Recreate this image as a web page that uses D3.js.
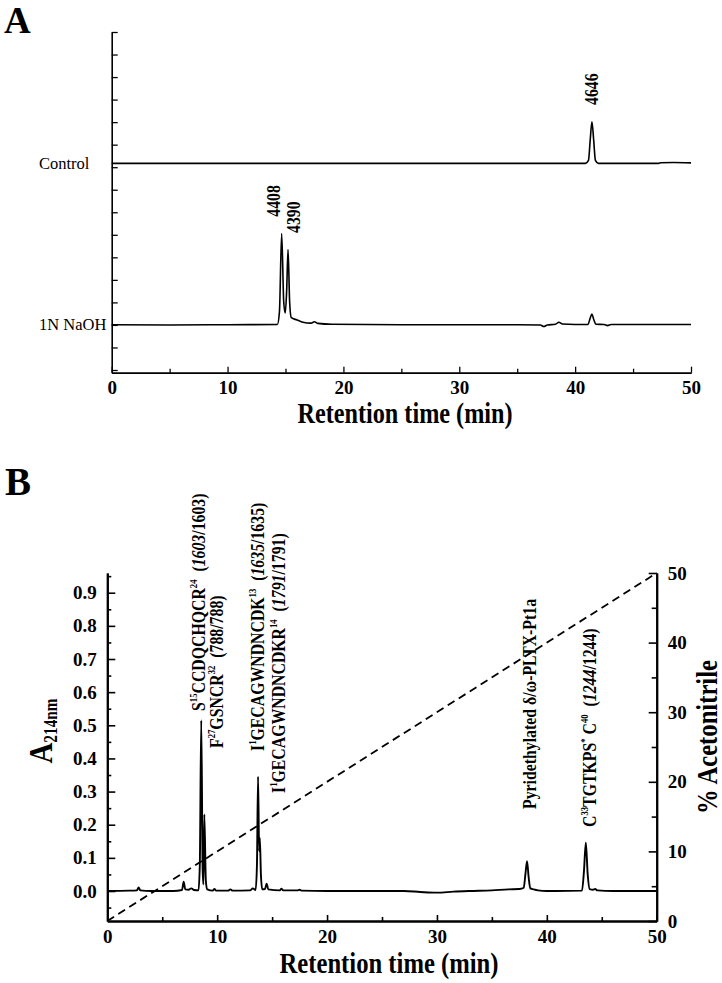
<!DOCTYPE html>
<html><head><meta charset="utf-8">
<script src="https://cdn.jsdelivr.net/npm/d3@7"></script>
<style>
body{margin:0;background:#fff}
svg{display:block}
</style>
</head><body>
<svg id="c" width="722" height="983" font-family="'Liberation Serif', Tinos, 'Times New Roman', Times, 'DejaVu Serif', serif"></svg>
<script>
// ---------------- DATA ----------------
const timeMajor = [0,10,20,30,40,50];
const timeMinor = [5,15,25,35,45];
const ticksA = [0,0.1,0.2,0.3,0.4,0.5,0.6,0.7,0.8,0.9,1.0,1.1,1.2,1.3,1.4,1.5];
const rowLabelsA = ["Control","1N NaOH"];
const peakLabelsA = ["4646","4408","4390"];
// panel A traces [time (min), signal on panel A axis]
const controlTrace = [[0,0.917],[10,0.917],[20,0.917],[30,0.917],[40,0.917],[40.9,0.917],[41.15,0.93],[41.3,1.02],[41.45,1.102],[41.6,1.02],[41.75,0.93],[42.0,0.917],[47.2,0.917],[47.4,0.920],[48.5,0.921],[49.5,0.920],[50,0.919]];
const naohTrace = [[0,0.201],[5,0.200],[10,0.201],[14.3,0.202],[14.48,0.26],[14.67,0.605],[14.85,0.30],[14.98,0.253],[15.1,0.35],[15.22,0.535],[15.36,0.30],[15.5,0.232],[16,0.222],[16.5,0.212],[17.2,0.208],[17.5,0.214],[17.8,0.207],[19,0.203],[25,0.201],[30,0.201],[35,0.201],[37.0,0.200],[37.3,0.193],[37.6,0.200],[38.3,0.203],[38.6,0.212],[38.9,0.204],[40,0.202],[41.1,0.202],[41.3,0.23],[41.45,0.248],[41.6,0.225],[41.8,0.203],[42.5,0.202],[42.8,0.197],[43.1,0.202],[50,0.202]];
// panel B
const absMajor = [0.0,0.1,0.2,0.3,0.4,0.5,0.6,0.7,0.8,0.9];
const absMinor = [-0.05,0.05,0.15,0.25,0.35,0.45,0.55,0.65,0.75,0.85,0.95];
const acnMajor = [0,10,20,30,40,50];
const acnMinor = [5,15,25,35,45];
const absTrace = [[0,0.0],[2.0,0.001],[2.7,0.002],[2.85,0.011],[3.0,0.002],[4,0.0],[6,0.0],[6.8,0.003],[6.95,0.028],[7.1,0.005],[7.4,0.004],[7.65,0.008],[7.9,0.003],[8.3,0.002],[8.42,0.08],[8.55,0.515],[8.68,0.06],[8.75,0.02],[8.83,0.231],[8.97,0.03],[9.1,0.005],[9.6,0.001],[9.75,0.006],[9.9,0.001],[11.0,0.001],[11.2,0.005],[11.4,0.001],[13.0,0.002],[13.25,0.008],[13.5,0.003],[13.62,0.08],[13.72,0.345],[13.82,0.12],[13.88,0.16],[13.98,0.05],[14.1,0.005],[14.35,0.006],[14.5,0.022],[14.65,0.005],[15.7,0.002],[15.85,0.007],[16.0,0.002],[17.3,0.002],[17.5,0.004],[17.7,0.001],[20,0.0],[25,0.0],[27,0.0],[28.5,-0.003],[30,-0.005],[31.5,-0.002],[33,0.0],[35,0.002],[36.5,0.005],[37.5,0.006],[37.9,0.01],[38.05,0.05],[38.2,0.09],[38.35,0.04],[38.5,0.008],[38.8,0.005],[39.2,0.002],[40,0.0],[43.2,0.001],[43.38,0.06],[43.55,0.146],[43.72,0.05],[43.9,0.006],[44.2,0.004],[44.4,0.006],[44.6,0.002],[46,0.0],[50,0.0]];
const acnGradient = [[0,0],[50,50]];
const peakLabelsB = [
  [{t:"S"},{t:"15",sup:1},{t:"CCDQCHQCR"},{t:"24",sup:1},{t:"\u00a0\u00a0("},{t:"1603",it:1},{t:"/1603)"}],
  [{t:"F"},{t:"27",sup:1},{t:"GSNCR"},{t:"32",sup:1},{t:"\u00a0\u00a0(788/788)"}],
  [{t:"I"},{t:"1",sup:1},{t:"GECAGWNDNCDK"},{t:"13",sup:1},{t:"\u00a0\u00a0("},{t:"1635",it:1},{t:"/1635)"}],
  [{t:"I"},{t:"1",sup:1},{t:"GECAGWNDNCDKR"},{t:"14",sup:1},{t:"\u00a0\u00a0("},{t:"1791",it:1},{t:"/1791)"}],
  [{t:"Pyridethylated \u03b4/\u03c9-PLTX-Pt1a"}],
  [{t:"C"},{t:"33",sup:1},{t:"TGTKPS"},{t:"*",sup:1},{t:"\u00a0C"},{t:"40",sup:1},{t:"\u00a0\u00a0("},{t:"1244",it:1},{t:"/1244)"}]
];
const xTitle = "Retention time (min)";

// ---------------- LAYOUT ----------------
const FONT = "'Liberation Serif', Tinos, 'Times New Roman', Times, 'DejaVu Serif', serif";
const svg = d3.select("#c");
svg.append("rect").attr("width",722).attr("height",983).attr("fill","#fff");

function styleAxis(g, w){
  g.attr("font-family", FONT);
  g.selectAll("path.domain").attr("stroke","#000").attr("stroke-width",w);
  g.selectAll(".tick line").attr("stroke","#000").attr("stroke-width",w*0.8);
  g.selectAll(".tick text").attr("font-family",FONT)
    .attr("font-weight","bold").attr("font-size",19).attr("fill","#000");
}
function txt(g){ return g.append("text").attr("font-family",FONT).attr("fill","#000"); }
const SQ = 0.85; // narrow glyph look of the reference

// ===== Panel A =====
const xA = d3.scaleLinear().domain([0,50]).range([111.7,691]);
const yA = d3.scaleLinear().domain([-0.012,1.5]).range([372.7,32]);

const gA = svg.append("g");
gA.append("g").attr("transform","translate(0,372.7)")
  .call(d3.axisBottom(xA).tickValues(timeMinor).tickSize(-4).tickSizeOuter(0).tickFormat(""))
  .call(g=>styleAxis(g,1.6));
gA.append("g").attr("transform","translate(0,372.7)")
  .call(d3.axisBottom(xA).tickValues(timeMajor).tickSize(-6).tickSizeOuter(0).tickPadding(8).tickFormat(d3.format("d")))
  .call(g=>styleAxis(g,1.6));
gA.append("g").attr("transform","translate(111.7,0)")
  .call(d3.axisLeft(yA).tickValues(ticksA).tickSize(-6).tickSizeOuter(0).tickFormat(""))
  .call(g=>styleAxis(g,1.6));

const lineA = d3.line().x(d=>xA(d[0])).y(d=>yA(d[1])).curve(d3.curveMonotoneX);
gA.append("path").datum(controlTrace).attr("d",lineA).attr("fill","none").attr("stroke","#000").attr("stroke-width",1.6);
gA.append("path").datum(naohTrace).attr("d",lineA).attr("fill","none").attr("stroke","#000").attr("stroke-width",1.6);

txt(gA).attr("x",39).attr("y",168.5).attr("font-size",16.5).text(rowLabelsA[0]);
txt(gA).attr("x",39).attr("y",330).attr("font-size",16.5).text(rowLabelsA[1]);

const posA = [[598,105],[280,216.7],[300,233]];
peakLabelsA.forEach((s,i)=>{
  txt(gA).attr("transform",`translate(${posA[i][0]},${posA[i][1]}) rotate(-90) scale(${SQ},1)`)
    .attr("font-size",18.6).attr("font-weight","bold").text(s);
});

txt(gA).attr("transform",`translate(405,423) scale(${SQ},1)`).attr("text-anchor","middle")
  .attr("font-size",28.5).attr("font-weight","bold").text(xTitle);
txt(svg).attr("x",4).attr("y",33).attr("font-size",37).attr("font-weight","bold").text("A");

// ===== Panel B =====
const xB = d3.scaleLinear().domain([0,50]).range([107.3,656.7]);
const yB = d3.scaleLinear().domain([-0.0905,0.9595]).range([921,573]);
const yP = d3.scaleLinear().domain([0,50]).range([921,573]);

const gB = svg.append("g");
gB.append("g").attr("transform","translate(0,921)")
  .call(d3.axisBottom(xB).tickValues(timeMinor).tickSize(-4).tickSizeOuter(0).tickFormat(""))
  .call(g=>styleAxis(g,2));
gB.append("g").attr("transform","translate(0,921)")
  .call(d3.axisBottom(xB).tickValues(timeMajor).tickSize(-6).tickSizeOuter(0).tickPadding(9).tickFormat(d3.format("d")))
  .call(g=>styleAxis(g,2));
gB.append("g").attr("transform","translate(107.3,0)")
  .call(d3.axisLeft(yB).tickValues(absMinor).tickSize(-4).tickSizeOuter(0).tickFormat(""))
  .call(g=>styleAxis(g,2));
gB.append("g").attr("transform","translate(107.3,0)")
  .call(d3.axisLeft(yB).tickValues(absMajor).tickSize(-8).tickSizeOuter(0).tickPadding(10.6).tickFormat(d3.format(".1f")))
  .call(g=>styleAxis(g,2));
gB.append("g").attr("transform","translate(656.7,0)")
  .call(d3.axisRight(yP).tickValues(acnMinor).tickSize(-5).tickSizeOuter(0).tickFormat(""))
  .call(g=>styleAxis(g,2));
gB.append("g").attr("transform","translate(656.7,0)")
  .call(d3.axisRight(yP).tickValues(acnMajor).tickSize(-8).tickSizeOuter(0).tickPadding(11).tickFormat(d3.format("d")))
  .call(g=>styleAxis(g,2));

const lineB = d3.line().x(d=>xB(d[0])).y(d=>yB(d[1])).curve(d3.curveMonotoneX);
gB.append("path").datum(absTrace).attr("d",lineB).attr("fill","none").attr("stroke","#000").attr("stroke-width",1.9);
const lineP = d3.line().x(d=>xB(d[0])).y(d=>yP(d[1]));
gB.append("path").datum(acnGradient).attr("d",lineP).attr("fill","none").attr("stroke","#000")
  .attr("stroke-width",1.8).attr("stroke-dasharray","8,5");

// rotated rich labels
const posB = [[205,711],[223,748],[264,751],[285,793],[536,809],[596,827]];
const fs = 18.6;
peakLabelsB.forEach((segs,i)=>{
  const t = txt(gB).attr("transform",`translate(${posB[i][0]},${posB[i][1]}) rotate(-90) scale(${SQ},1)`)
    .attr("font-size",fs).attr("font-weight","bold");
  let shift = 0;
  segs.forEach(s=>{
    const target = s.sup ? -fs*0.42 : 0;
    const sp = t.append("tspan").attr("dy", target - shift).text(s.t);
    shift = target;
    if (s.sup) sp.attr("font-size", fs*0.55);
    if (s.it) sp.attr("font-style","italic");
  });
});

// y titles
const aT = txt(gB).attr("transform",`translate(52,731) rotate(-90) scale(${SQ},1)`).attr("text-anchor","middle")
  .attr("font-weight","bold");
aT.append("tspan").attr("font-size",34).text("A");
aT.append("tspan").attr("font-size",18).attr("dy",5).text("214nm");
txt(gB).attr("transform",`translate(717,737) rotate(-90) scale(${SQ},1)`).attr("text-anchor","middle")
  .attr("font-size",29).attr("font-weight","bold").text("% Acetonitrile");

txt(gB).attr("transform",`translate(389,973) scale(${SQ},1)`).attr("text-anchor","middle")
  .attr("font-size",29).attr("font-weight","bold").text(xTitle);
txt(svg).attr("x",5).attr("y",495).attr("font-size",39).attr("font-weight","bold").text("B");
</script>
</body></html>
